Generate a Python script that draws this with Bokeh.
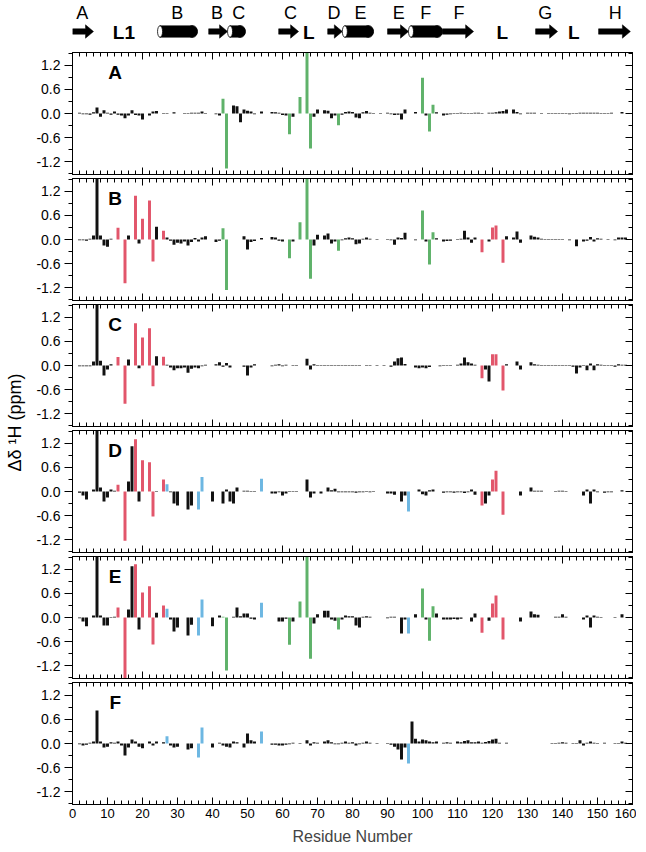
import math
from bokeh.plotting import figure
from bokeh.models import Range1d, LinearAxis, FixedTicker, NumeralTickFormatter, ColumnDataSource
from bokeh.layouts import column, row
from bokeh.embed import file_html
from bokeh.resources import INLINE
from bokeh.core.properties import value

FONT = "Liberation Sans"

# ---------------- data ----------------
panel_names = ["A", "B", "C", "D", "E", "F"]

shift_A = [(2, 0.02), (3, -0.02), (4, -0.02), (5, -0.03), (6, 0.03), (7, 0.15), (8, -0.08), (9, 0.08), (10, 0.02),
           (11, -0.03), (12, 0.05), (13, -0.03), (14, -0.05), (15, -0.12), (16, -0.05), (17, 0.08), (18, -0.04),
           (19, -0.05), (20, -0.15), (22, -0.05), (23, 0.05), (24, 0.06), (26, 0.01), (27, 0.01), (29, 0.03),
           (32, 0.01), (33, 0.01), (34, 0.02), (35, 0.02), (36, 0.02), (37, 0.05), (38, 0.01), (41, -0.02),
           (42, -0.05), (43, 0.37), (44, -1.37), (46, 0.2), (47, 0.18), (48, -0.22), (49, 0.1), (50, 0.07),
           (51, 0.05), (52, -0.02), (54, 0.05), (57, 0.04), (58, 0.03), (59, 0.02), (60, -0.04), (61, -0.05),
           (62, -0.52), (63, -0.08), (65, 0.41), (67, 1.6), (68, -0.87), (69, -0.08), (70, 0.1), (72, 0.08),
           (73, 0.07), (74, -0.12), (75, -0.05), (76, -0.29), (77, -0.03), (78, 0.04), (79, 0.05), (80, 0.04),
           (81, -0.1), (82, -0.12), (83, 0.03), (84, 0.06), (85, 0.02), (86, -0.01), (88, 0.01), (90, 0.02),
           (91, -0.02), (92, -0.04), (93, -0.03), (94, -0.15), (95, 0.1), (98, 0.04), (100, 0.89), (101, -0.05),
           (102, -0.45), (103, 0.22), (104, 0.03), (106, -0.05), (107, -0.03), (108, -0.02), (109, 0.01),
           (110, 0.01), (111, 0.02), (112, 0.01), (113, -0.01), (114, 0.01), (115, 0.02), (116, 0.02), (117, 0.01),
           (119, 0.02), (120, 0.02), (121, 0.03), (122, 0.05), (123, 0.06), (124, 0.1), (126, 0.1), (127, 0.04),
           (128, -0.02), (130, 0.02), (131, 0.02), (132, 0.02), (134, 0.01), (136, 0.01), (137, -0.01),
           (138, -0.01), (139, 0.01), (140, -0.01), (141, -0.01), (142, -0.02), (143, -0.01), (144, 0.01),
           (145, 0.02), (146, 0.02), (147, 0.02), (148, 0.02), (149, 0.02), (150, 0.02), (151, 0.01), (152, 0.01),
           (153, 0.01), (154, 0.02), (157, 0.04)]

shift_B = [(2, -0.02), (3, -0.02), (4, -0.03), (5, 0.02), (6, 0.1), (7, 1.6), (8, 0.1), (9, -0.15), (10, -0.18),
           (11, 0.02), (13, 0.29), (15, -1.09), (16, 0.1), (18, 1.09), (19, -0.1), (20, 0.52), (22, 0.97),
           (23, -0.55), (24, 0.32), (26, 0.22), (27, 0.05), (28, -0.03), (29, -0.13), (30, -0.08), (31, -0.1),
           (32, -0.05), (33, -0.15), (34, -0.06), (35, 0.04), (36, -0.05), (37, 0.05), (38, 0.08), (41, -0.06),
           (42, -0.03), (43, 0.28), (44, -1.26), (49, 0.08), (50, -0.25), (51, -0.06), (52, -0.04), (54, 0.04),
           (57, 0.06), (58, 0.05), (59, -0.03), (60, -0.05), (62, -0.47), (63, -0.05), (65, 0.43), (67, 1.6),
           (68, -0.98), (69, -0.15), (70, 0.12), (72, 0.1), (73, 0.15), (74, -0.1), (75, -0.05), (76, -0.28),
           (77, -0.02), (78, 0.03), (79, 0.05), (80, 0.03), (81, -0.12), (82, -0.1), (83, 0.02), (84, 0.05),
           (85, 0.02), (87, -0.01), (90, 0.01), (91, -0.02), (92, -0.13), (93, 0.05), (94, 0.04), (95, 0.17),
           (98, -0.02), (100, 0.72), (101, -0.05), (102, -0.62), (103, 0.18), (104, 0.03), (106, -0.05),
           (107, -0.04), (108, -0.03), (110, -0.01), (111, 0.02), (112, 0.22), (113, 0.05), (114, -0.08),
           (115, 0.05), (117, -0.32), (119, -0.05), (120, 0.3), (121, 0.35), (123, -0.58), (124, 0.08),
           (126, 0.05), (127, 0.2), (128, -0.08), (131, 0.1), (132, 0.07), (133, 0.05), (134, 0.02), (135, 0.01),
           (136, 0.01), (137, 0.01), (138, 0.01), (139, 0.01), (140, 0.01), (142, -0.02), (144, -0.17),
           (146, -0.05), (147, -0.03), (148, 0.06), (149, -0.05), (150, 0.03), (151, 0.02), (153, 0.01),
           (155, -0.02), (156, 0.05), (157, 0.05), (158, 0.05)]

shift_C = [(2, -0.02), (3, -0.02), (4, -0.02), (5, -0.02), (6, 0.1), (7, 1.6), (8, 0.12), (9, -0.25), (10, -0.1),
           (11, 0.03), (13, 0.21), (15, -0.95), (16, 0.15), (18, 1.05), (19, -0.07), (20, 0.7), (22, 0.93),
           (23, -0.52), (24, 0.23), (26, 0.22), (27, 0.02), (28, -0.05), (29, -0.12), (30, -0.07), (31, -0.07),
           (32, -0.05), (33, -0.18), (34, -0.08), (35, -0.05), (36, -0.07), (37, -0.02), (38, 0.02), (41, 0.03),
           (42, 0.08), (43, -0.03), (44, 0.06), (45, -0.05), (49, -0.03), (50, -0.25), (51, -0.05), (52, 0.03),
           (57, -0.02), (58, 0.02), (59, 0.03), (60, -0.02), (61, 0.02), (63, 0.01), (64, 0.01), (67, 0.17),
           (68, -0.1), (69, 0.03), (70, 0.01), (71, 0.01), (72, 0.01), (73, 0.01), (74, 0.01), (75, 0.01),
           (76, 0.01), (77, 0.01), (78, 0.01), (79, 0.01), (80, 0.01), (81, 0.01), (82, 0.01), (84, 0.01),
           (85, 0.01), (87, 0.01), (89, 0.01), (91, -0.03), (92, 0.1), (93, 0.18), (94, 0.2), (95, 0.04),
           (98, -0.05), (99, -0.07), (100, -0.05), (101, -0.07), (102, -0.04), (105, -0.02), (106, -0.01),
           (107, 0.01), (108, 0.01), (110, 0.02), (111, 0.05), (112, 0.2), (113, 0.08), (114, 0.05), (115, 0.02),
           (117, -0.32), (118, -0.1), (119, -0.4), (120, 0.28), (121, 0.28), (123, -0.62), (124, 0.03),
           (127, 0.1), (128, -0.1), (131, 0.08), (132, 0.03), (133, 0.02), (134, 0.01), (135, 0.01), (136, 0.01),
           (137, 0.01), (138, 0.01), (139, 0.01), (140, 0.01), (141, -0.01), (142, -0.01), (143, -0.03),
           (144, -0.2), (145, -0.05), (146, -0.01), (147, -0.12), (148, 0.05), (149, -0.12), (150, 0.03),
           (151, 0.02), (152, 0.01), (153, 0.01), (154, 0.01), (155, -0.03), (156, 0.03), (157, 0.02), (158, 0.02)]

shift_D = [(2, -0.03), (3, -0.1), (4, -0.2), (6, 0.05), (7, 1.6), (8, 0.1), (9, -0.25), (10, -0.15), (11, 0.05),
           (12, 0.02), (13, 0.17), (15, -1.23), (16, 0.25), (17, 1.13), (18, 1.3), (19, -0.25), (20, 0.78),
           (22, 0.73), (23, -0.62), (24, 0.01), (26, 0.3), (27, 0.18), (28, -0.02), (29, -0.3), (30, -0.35),
           (33, -0.45), (34, -0.35), (36, -0.45), (37, 0.36), (40, -0.25), (43, -0.3), (44, 0.05), (45, -0.25),
           (46, -0.3), (47, 0.1), (49, 0.02), (50, 0.02), (51, 0.01), (52, 0.01), (54, 0.32), (57, -0.05),
           (58, -0.05), (59, -0.02), (60, -0.1), (61, -0.05), (62, -0.01), (63, 0.01), (64, 0.01), (67, 0.3),
           (68, -0.15), (69, -0.05), (71, -0.05), (73, 0.1), (74, 0.03), (75, 0.07), (76, -0.02), (77, -0.02),
           (78, -0.02), (79, -0.02), (80, -0.02), (81, -0.03), (82, -0.02), (83, -0.02), (84, -0.01), (85, -0.02),
           (86, -0.01), (90, -0.05), (91, -0.05), (92, -0.08), (94, -0.25), (95, -0.1), (96, -0.5), (99, 0.05),
           (100, -0.07), (101, -0.1), (102, 0.03), (103, 0.05), (106, -0.03), (107, -0.02), (108, -0.02),
           (109, -0.03), (110, -0.02), (111, -0.02), (112, -0.04), (113, -0.02), (114, 0.05), (115, -0.08),
           (117, -0.35), (118, -0.3), (119, -0.1), (120, 0.3), (121, 0.52), (123, -0.58), (128, -0.1),
           (131, 0.1), (132, 0.02), (133, 0.02), (134, 0.02), (138, 0.01), (139, 0.02), (140, 0.02), (141, -0.01),
           (146, -0.1), (147, 0.05), (148, -0.3), (149, 0.05), (150, -0.02), (152, -0.03), (153, -0.02),
           (154, -0.02), (157, 0.03)]

shift_E = [(2, -0.02), (3, -0.1), (4, -0.22), (6, 0.05), (7, 1.6), (8, 0.05), (9, -0.2), (10, -0.2), (11, 0.01),
           (12, 0.02), (13, 0.25), (15, -1.6), (16, 0.2), (17, 1.28), (18, 1.33), (19, -0.3), (20, 0.62),
           (22, 0.78), (23, -0.67), (24, 0.12), (26, 0.3), (27, 0.22), (28, -0.05), (29, -0.35), (30, -0.25),
           (33, -0.45), (34, -0.18), (36, -0.45), (37, 0.45), (40, -0.22), (42, 0.05), (43, 0.02), (44, -1.32),
           (46, 0.02), (47, 0.25), (48, 0.03), (49, 0.1), (50, 0.1), (51, -0.03), (52, -0.05), (54, 0.37),
           (59, -0.1), (60, -0.1), (61, -0.03), (62, -0.68), (63, -0.1), (65, 0.4), (67, 1.6), (68, -1.03),
           (69, -0.15), (70, 0.08), (72, 0.17), (73, 0.17), (74, -0.05), (75, -0.08), (76, -0.3), (77, -0.05),
           (78, 0.05), (79, 0.03), (80, 0.03), (81, -0.2), (82, -0.25), (83, 0.02), (84, 0.03), (85, 0.02),
           (90, -0.02), (91, 0.02), (92, 0.02), (94, -0.4), (95, -0.05), (96, -0.4), (98, 0.08), (100, 0.72),
           (101, -0.05), (102, -0.58), (103, 0.28), (104, 0.1), (106, -0.05), (107, -0.05), (108, -0.05),
           (109, -0.04), (110, -0.05), (111, -0.03), (114, -0.1), (115, 0.1), (117, -0.38), (119, -0.08),
           (120, 0.35), (121, 0.55), (123, -0.55), (128, -0.1), (131, 0.15), (132, 0.08), (133, 0.07),
           (138, 0.02), (139, 0.02), (140, 0.08), (141, 0.02), (146, -0.05), (147, 0.05), (148, -0.25),
           (149, 0.05), (150, 0.02), (151, 0.01), (155, -0.01), (157, 0.08)]

shift_F = [(2, -0.02), (3, -0.05), (4, -0.03), (5, 0.02), (6, 0.05), (7, 0.82), (8, 0.05), (9, -0.1), (10, -0.08),
           (11, 0.03), (12, 0.02), (13, 0.05), (14, -0.05), (15, -0.3), (16, -0.1), (17, 0.1), (18, 0.05),
           (19, -0.08), (20, -0.12), (22, 0.05), (23, -0.05), (24, 0.05), (26, 0.03), (27, 0.18), (28, -0.05),
           (29, -0.1), (30, -0.08), (33, -0.15), (34, -0.12), (36, -0.35), (37, 0.4), (40, -0.1), (42, 0.02),
           (43, -0.05), (44, -0.08), (45, -0.1), (46, 0.05), (47, 0.03), (49, -0.1), (50, 0.25), (51, 0.08),
           (52, 0.05), (54, 0.3), (57, -0.03), (58, -0.03), (59, -0.05), (60, -0.05), (61, -0.03), (62, -0.02),
           (63, 0.02), (65, 0.01), (67, 0.08), (68, -0.05), (69, 0.03), (70, 0.02), (72, 0.05), (73, 0.08),
           (74, 0.03), (75, -0.02), (76, -0.02), (77, 0.02), (78, 0.05), (79, 0.02), (80, 0.03), (81, -0.05),
           (82, -0.02), (83, 0.02), (84, 0.05), (85, 0.02), (87, 0.01), (90, 0.01), (91, -0.03), (92, -0.08),
           (93, -0.15), (94, -0.4), (95, -0.1), (96, -0.5), (97, 0.55), (98, 0.12), (99, 0.05), (100, 0.1),
           (101, 0.08), (102, 0.05), (103, 0.03), (104, 0.05), (106, 0.02), (107, 0.03), (108, 0.02), (110, 0.05),
           (111, 0.03), (112, 0.06), (113, 0.08), (114, 0.03), (115, 0.03), (116, 0.05), (117, 0.02), (118, 0.04),
           (119, 0.06), (120, 0.1), (121, 0.12), (122, 0.02), (124, 0.02), (137, 0.01), (138, 0.01), (139, 0.02),
           (140, 0.03), (141, 0.02), (143, 0.01), (144, 0.01), (145, 0.08), (146, -0.05), (147, 0.02),
           (148, 0.05), (149, 0.02), (150, 0.01), (152, 0.02), (155, 0.01), (156, 0.01), (157, 0.05), (158, 0.02)]

shifts = {"A": shift_A, "B": shift_B, "C": shift_C, "D": shift_D, "E": shift_E, "F": shift_F}

green_res = [43, 44, 62, 65, 67, 68, 76, 100, 102, 103]
red_res = [13, 15, 18, 20, 22, 23, 26, 117, 120, 121, 123]
blue_res = [27, 36, 37, 54, 96]
panel_groups = {"A": ["green"], "B": ["green", "red"], "C": ["red"], "D": ["red", "blue"],
                "E": ["green", "red", "blue"], "F": ["blue"]}
group_res = {"green": green_res, "red": red_res, "blue": blue_res}
group_color = {"green": "#5fb26a", "red": "#e2566b", "blue": "#6db7e2"}

y_ticks = [-1.2, -0.6, 0.0, 0.6, 1.2]
y_minor = [-1.5, -0.9, -0.3, 0.3, 0.9, 1.5]

# secondary structure (residue ranges)
sse_kind = ["arrow", "cyl", "arrow", "cyl", "arrow", "arrow", "cyl", "arrow", "cyl", "arrow", "arrow", "arrow"]
sse_start = [0.0, 24.3, 38.9, 44.3, 58.9, 72.9, 77.1, 90.0, 96.0, 105.7, 132.3, 150.3]
sse_end = [6.0, 35.7, 44.3, 49.4, 64.6, 77.1, 86.0, 96.0, 105.7, 114.6, 138.6, 159.4]
ss_label = ["A", "B", "B", "C", "C", "D", "E", "E", "F", "F", "G", "H"]
ss_label_x = [2.8, 29.9, 41.3, 47.5, 62.3, 74.7, 82.3, 93.2, 100.9, 110.4, 135.1, 155.1]
loop_label = ["L1", "L", "L", "L"]
loop_x = [14.7, 67.5, 122.8, 143.2]

# ---------------- layout ----------------
FW = 560
FH = 122
YLW = 28
BL = 72 - YLW
BR = 4
xr = Range1d(0, 160)

# top schematic
TOPH = 50
top = figure(frame_width=FW, frame_height=TOPH, x_range=xr, y_range=Range1d(TOPH, 0),
             x_axis_location=None, y_axis_location=None, output_backend="svg", toolbar_location=None,
             min_border_left=BL, min_border_right=BR, min_border_top=0, min_border_bottom=0)
top.grid.visible = False
top.outline_line_color = None
yc = 31.0
px = 160.0 / FW  # data units per pixel in x
ax_xs, ax_ys = [], []
cyl_l, cyl_r, cap_x, end_x = [], [], [], []
for k, s, e in zip(sse_kind, sse_start, sse_end):
    if k == "arrow":
        hl = 8 * px
        ax_xs.append([s, e - hl, e - hl, e, e - hl, e - hl, s])
        ax_ys.append([yc - 2.7, yc - 2.7, yc - 6.7, yc, yc + 6.7, yc + 2.7, yc + 2.7])
    else:
        cw = 5 * px
        rw = 5 * px
        cyl_l.append(s + cw / 2)
        cyl_r.append(e - rw)
        cap_x.append(s + cw / 2)
        end_x.append(e - rw)
top.patches(ax_xs, ax_ys, fill_color="black", line_color="black", line_width=0.5)
top.quad(left=cyl_l, right=cyl_r, top=[yc - 5.8] * len(cyl_l), bottom=[yc + 5.8] * len(cyl_l),
         fill_color="black", line_color="black", line_width=0.5)
top.ellipse(x=end_x, y=[yc] * len(end_x), width=[10 * px] * len(end_x), height=[11.6] * len(end_x),
            fill_color="black", line_color="black")
top.ellipse(x=cap_x, y=[yc] * len(cap_x), width=[5 * px] * len(cap_x), height=[11.6] * len(cap_x),
            fill_color="white", line_color="black", line_width=0.8)
top.text(x=ss_label_x, y=[12] * len(ss_label), text=ss_label, text_font=value(FONT), text_font_size="18px",
         text_align="center", text_baseline="middle", text_color="black")
top.text(x=loop_x, y=[yc + 1] * len(loop_x), text=loop_label, text_font=value(FONT), text_font_size="19px",
         text_font_style="bold", text_align="center", text_baseline="middle", text_color="black")


def style_axis(ax, labels, tick_in, tick_out, minor_in, minor_out):
    ax.axis_line_color = "black"
    ax.axis_line_width = 1
    ax.major_tick_line_color = "black"
    ax.minor_tick_line_color = "black"
    ax.major_tick_in = tick_in
    ax.major_tick_out = tick_out
    ax.minor_tick_in = minor_in
    ax.minor_tick_out = minor_out
    if not labels:
        ax.major_label_text_font_size = "0px"
        ax.major_label_text_color = None
        ax.major_label_standoff = 0
    else:
        ax.major_label_text_font = FONT
        ax.major_label_text_color = "black"


panels = []
for i, name in enumerate(panel_names):
    last = (i == len(panel_names) - 1)
    pairs = shifts[name]
    res = [r for r, v in pairs]
    val = [v for r, v in pairs]
    cols = []
    for r in res:
        c = "#111111"
        for g in panel_groups[name]:
            if r in group_res[g]:
                c = group_color[g]
        cols.append(c)
    src = ColumnDataSource(dict(x=res, top=val, color=cols))
    p = figure(frame_width=FW, frame_height=FH, x_range=xr, y_range=Range1d(-1.52, 1.52),
               output_backend="svg", toolbar_location=None,
               min_border_left=BL, min_border_right=BR, min_border_top=2, min_border_bottom=2)
    p.grid.visible = False
    p.outline_line_color = "black"
    p.outline_line_width = 1
    p.vbar(x="x", top="top", bottom=0, width=0.85, fill_color="color", line_color=None, source=src)
    p.text(x=[12.2], y=[1.02], text=[name], text_font=value(FONT), text_font_style="bold",
           text_font_size="19px", text_align="center", text_baseline="middle", text_color="black")

    # bottom x axis
    xb = p.xaxis[0]
    if last:
        xb.ticker = FixedTicker(ticks=list(range(0, 161, 10)), minor_ticks=list(range(0, 161, 2)))
        style_axis(xb, True, 7, 0, 4, 0)
        xb.major_label_text_font_size = "13px"
        xb.major_label_standoff = 4
        xb.axis_label = "Residue Number"
        xb.axis_label_text_font = FONT
        xb.axis_label_text_font_size = "16px"
        xb.axis_label_text_font_style = "normal"
        xb.axis_label_standoff = 7
    else:
        xb.ticker = FixedTicker(ticks=list(range(0, 161, 20)), minor_ticks=list(range(0, 161, 2)))
        style_axis(xb, False, 7, 0, 4, 0)
    # top x axis
    xt = LinearAxis(ticker=FixedTicker(ticks=list(range(0, 161, 20)), minor_ticks=list(range(0, 161, 2))))
    style_axis(xt, False, 7, 0, 4, 0)
    p.add_layout(xt, "above")
    # left y axis
    yl = p.yaxis[0]
    yl.ticker = FixedTicker(ticks=y_ticks, minor_ticks=y_minor)
    yl.formatter = NumeralTickFormatter(format="0.0")
    style_axis(yl, True, 0, 8, 0, 4)
    yl.major_label_text_font_size = "14px"
    yl.major_label_standoff = 4
    # right y axis
    yr = LinearAxis(ticker=FixedTicker(ticks=y_ticks, minor_ticks=y_minor))
    style_axis(yr, False, 7, 0, 4, 0)
    p.add_layout(yr, "right")
    panels.append(p)

total_h = 850
ylab = figure(width=YLW, height=total_h, x_range=Range1d(0, YLW), y_range=Range1d(0, total_h),
              x_axis_location=None, y_axis_location=None, output_backend="svg", toolbar_location=None,
              min_border=0)
ylab.grid.visible = False
ylab.outline_line_color = None
ylab.text(x=[14], y=[total_h - 422], text=["\u0394\u03b4 \u00b9H (ppm)"], angle=math.pi / 2,
          text_font=value(FONT), text_font_size="18px", text_align="center", text_baseline="middle",
          text_color="black")

layout = row(ylab, column(top, *panels, spacing=0), spacing=0)

open("out.html", "w").write(file_html(layout, INLINE))
